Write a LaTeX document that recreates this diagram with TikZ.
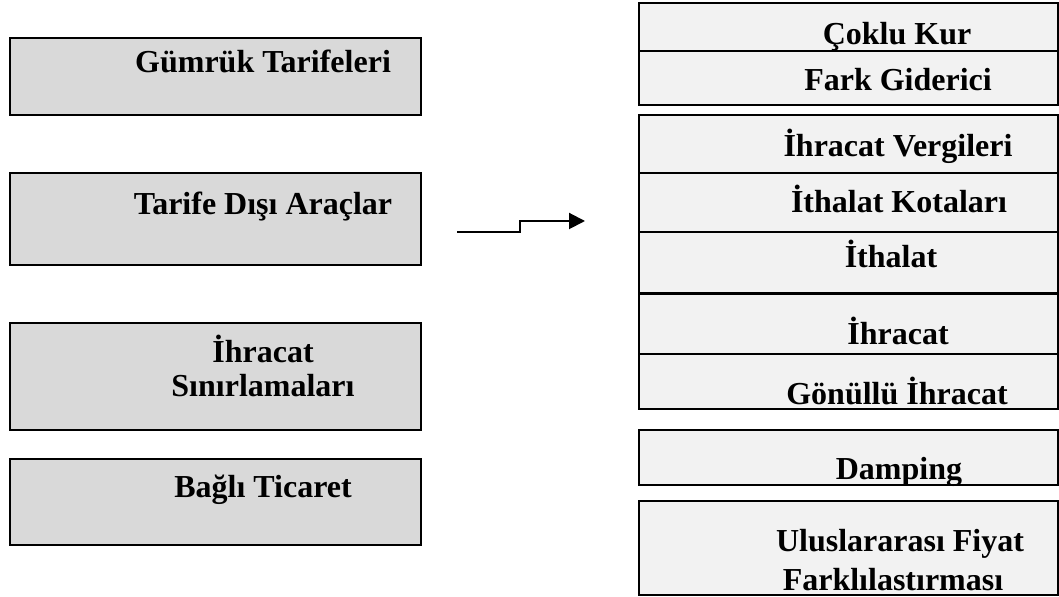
\documentclass[tikz,border=0pt]{standalone}
\usepackage{fontspec}
\setmainfont{Liberation Serif}
\usetikzlibrary{positioning, arrows.meta}

\definecolor{leftgray}{HTML}{D9D9D9}
\definecolor{rightgray}{HTML}{F2F2F2}

\begin{document}
\begin{tikzpicture}[x=0.5pt, y=-0.5pt, node distance = 0pt,
    lbox/.style = {draw, line width=1pt, fill=leftgray, anchor=north west,
                   minimum width=205.5pt, inner sep=0pt, outer sep=0pt},
    rbox/.style = {draw, line width=1pt, fill=rightgray, anchor=north west,
                   minimum width=209.5pt, inner sep=0pt, outer sep=0pt},
    lbl/.style  = {anchor=base, inner sep=0pt,
                   font=\fontsize{16}{19}\selectfont\bfseries}]
  \useasboundingbox (0,0) rectangle (1059,597);

  % left column
  \node[lbox, minimum height=38.5pt]  (gumruk)  at (10,38)  {};
  \node[lbox, minimum height=46pt]    (tarife)  at (10,173) {};
  \node[lbox, minimum height=53.5pt]  (ihrsin)  at (10,323) {};
  \node[lbox, minimum height=43pt]    (bagli)   at (10,459) {};

  \node[lbl] (gumrukT) at (263,73)  {Gümrük Tarifeleri};
  \node[lbl] (tarifeT) at (263,215) {Tarife Dışı Araçlar};
  \node[lbl] (ihrsinA) at (263,363) {İhracat};
  \node[lbl] (ihrsinB) at (263,397) {Sınırlamaları};
  \node[lbl] (bagliT)  at (263,498) {Bağlı Ticaret};

  % arrow
  \coordinate (arrS) at (457,232);
  \coordinate (arrK) at (520,221);
  \coordinate (arrE) at (585,221);
  \draw[line width=1pt, -{Triangle[length=8pt, width=8pt]}]
    (arrS) -| (arrK) -- (arrE);

  % right column
  \node[rbox, minimum height=24pt]   (coklu)   at (639,3)   {};
  \node[rbox, minimum height=27pt]   (fark)    [below=of coklu.south west, anchor=north west] {};
  \node[rbox, minimum height=29pt]   (ihrverg) at (639,115) {};
  \node[rbox, minimum height=29.5pt] (ithkota) [below=of ihrverg.south west, anchor=north west] {};
  \node[rbox, minimum height=30.5pt] (ithal)   [below=of ithkota.south west, anchor=north west] {};
  \node[rbox, minimum height=30pt]   (ihrac)   at (639,294) {};
  \node[rbox, minimum height=27.5pt] (gonullu) [below=of ihrac.south west, anchor=north west] {};
  \node[rbox, minimum height=27.5pt] (damping) at (639,430) {};
  \node[rbox, minimum height=47pt]   (fiyat)   at (639,501) {};

  \node[lbl] (cokluT)   at (897,45)  {Çoklu Kur};
  \node[lbl] (farkT)    at (898,91)  {Fark Giderici};
  \node[lbl] (ihrvergT) at (898,157) {İhracat Vergileri};
  \node[lbl] (ithkotaT) at (899,213) {İthalat Kotaları};
  \node[lbl] (ithalT)   at (891,268) {İthalat};
  \node[lbl] (ihracT)   at (898,345) {İhracat};
  \node[lbl] (gonulluT) at (897,405) {Gönüllü İhracat};
  \node[lbl] (dampingT) at (899,480) {Damping};
  \node[lbl] (fiyatA)   at (900,552) {Uluslararası Fiyat};
  \node[lbl] (fiyatB)   at (893,590) {Farklılastırması};
\end{tikzpicture}
\end{document}
